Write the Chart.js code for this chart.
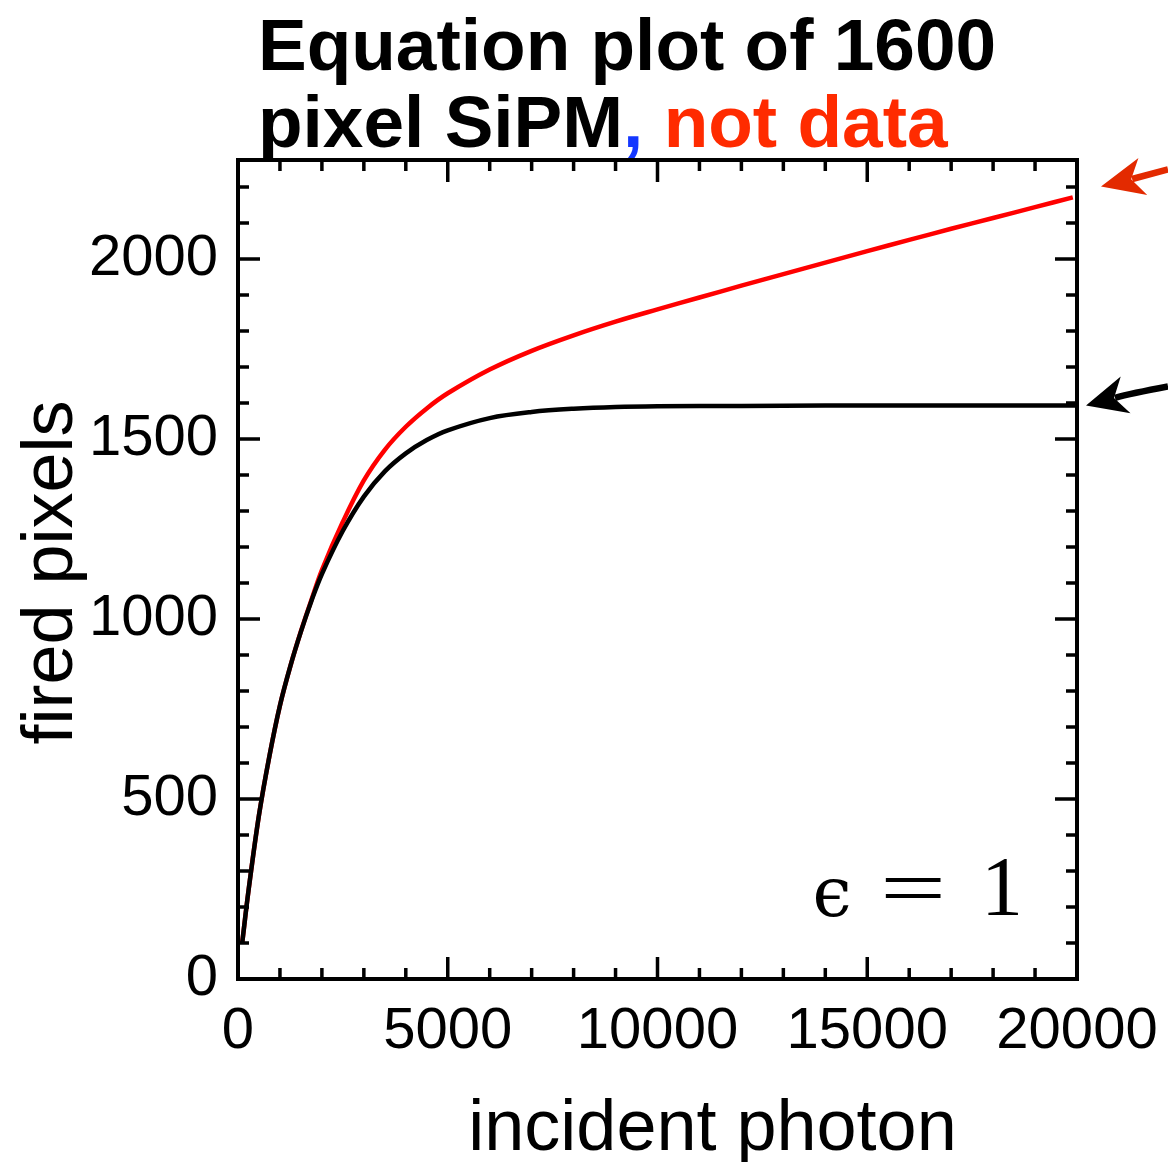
<!DOCTYPE html>
<html>
<head>
<meta charset="utf-8">
<title>Equation plot of 1600 pixel SiPM</title>
<script src="https://cdn.jsdelivr.net/npm/chart.js@4/dist/chart.umd.min.js"></script>
<style>
  html, body { margin: 0; padding: 0; background: #fff; }
  #wrap { width: 1168px; height: 1162px; }
</style>
</head>
<body>
<div id="wrap"><canvas id="sipm" width="1168" height="1162"></canvas></div>
<script>
// saturating curve (black): fired pixels vs incident photons
const photonsBlack = [100, 250, 500, 750, 1000, 1250, 1500, 1750, 2000, 2500, 3000, 3500, 4000, 4500,
  5000, 6000, 7000, 8000, 9000, 10000, 12000, 14000, 16000, 18000, 20000];
const firedBlack = [100, 245, 455, 620, 760, 870, 965, 1050, 1125, 1245, 1340, 1410, 1460, 1497,
  1524, 1558, 1575, 1584, 1589, 1591, 1592, 1593, 1593, 1593, 1593];

// non-saturating curve (red)
const photonsRed = [100, 250, 500, 750, 1000, 1250, 1500, 1750, 2000, 2500, 3000, 3500, 4000, 4500,
  5000, 6000, 7000, 8000, 9000, 10000, 11000, 12000, 13000, 14000, 15000, 16000, 17000, 18000, 19000, 19900];
const firedRed = [100, 245, 455, 620, 760, 870, 966, 1053, 1136, 1270, 1385, 1470, 1534, 1585,
  1627, 1693, 1745, 1788, 1826, 1860, 1893, 1926, 1958, 1990, 2022, 2053, 2084, 2114, 2144, 2171];

// axes
const xMin = 0, xMax = 20000, xMinorStep = 1000;
const yMin = 0, yMax = 2275, yMinorStep = 100;
const xTicks = [0, 5000, 10000, 15000, 20000];
const yTicks = [0, 500, 1000, 1500, 2000];

const FONT = "'Liberation Sans', Arial, Helvetica, sans-serif";

function toPoints(xs, ys) {
    return xs.map((x, i) => ({ x: x, y: ys[i] }));
}

// 標題：兩行，逗號藍色、"not data" 紅色
const titlePlugin = {
    id: 'titleText',
    afterDraw(chart) {
        const ctx = chart.ctx;
        const left = chart.chartArea.left + 20;
        ctx.save();
        ctx.font = 'bold 73px ' + FONT;
        ctx.textBaseline = 'alphabetic';
        ctx.textAlign = 'left';
        ctx.fillStyle = '#000';
        ctx.fillText('Equation plot of 1600', left, 70);
        const parts = [
            ['pixel SiPM', '#000'],
            [',', '#1437ff'],
            [' not data', '#ff2b00']
        ];
        let x = left;
        parts.forEach(([txt, col]) => {
            ctx.fillStyle = col;
            ctx.fillText(txt, x, 147);
            x += ctx.measureText(txt).width;
        });
        ctx.restore();
    }
};

// 外框與內向刻度（四邊）
const framePlugin = {
    id: 'frameTicks',
    afterDatasetsDraw(chart) {
        const { ctx, chartArea: a, scales } = chart;
        const xs = scales.x, ys = scales.y;
        ctx.save();
        ctx.strokeStyle = '#000';
        ctx.lineWidth = 3.5;
        ctx.lineCap = 'butt';
        ctx.beginPath();
        for (let v = xMin + xMinorStep; v < xMax; v += xMinorStep) {
            const px = xs.getPixelForValue(v);
            const len = xTicks.includes(v) ? 22 : 11;
            ctx.moveTo(px, a.bottom);
            ctx.lineTo(px, a.bottom - len);
            ctx.moveTo(px, a.top);
            ctx.lineTo(px, a.top + len);
        }
        for (let v = yMin + yMinorStep; v < yMax; v += yMinorStep) {
            const py = ys.getPixelForValue(v);
            const len = yTicks.includes(v) ? 22 : 11;
            ctx.moveTo(a.left, py);
            ctx.lineTo(a.left + len, py);
            ctx.moveTo(a.right, py);
            ctx.lineTo(a.right - len, py);
        }
        ctx.stroke();
        ctx.lineWidth = 4;
        ctx.strokeRect(a.left, a.top, a.right - a.left, a.bottom - a.top);
        ctx.restore();
    }
};

function drawArrow(ctx, tail, ctrl, tip, color, headLen, headHalf) {
    // direction of the head taken from the control point to the tip
    const dx = tip.x - ctrl.x, dy = tip.y - ctrl.y;
    const d = Math.hypot(dx, dy);
    const ux = dx / d, uy = dy / d;
    const bx = tip.x - ux * headLen, by = tip.y - uy * headLen;
    ctx.save();
    ctx.strokeStyle = color;
    ctx.fillStyle = color;
    ctx.lineWidth = 6.5;
    ctx.beginPath();
    ctx.moveTo(tail.x, tail.y);
    ctx.quadraticCurveTo(ctrl.x, ctrl.y, bx + ux * 6, by + uy * 6);
    ctx.stroke();
    ctx.beginPath();
    ctx.moveTo(tip.x, tip.y);
    ctx.lineTo(bx - uy * headHalf - ux * 5, by + ux * headHalf - uy * 5);
    ctx.lineTo(bx + ux * 7, by + uy * 7);
    ctx.lineTo(bx + uy * headHalf - ux * 5, by - ux * headHalf - uy * 5);
    ctx.closePath();
    ctx.fill();
    ctx.restore();
}

// 右側箭頭、ε = 1、座標軸名稱
const notesPlugin = {
    id: 'notes',
    afterDraw(chart) {
        const { ctx, chartArea: a, scales } = chart;
        const ys = scales.y;
        const W = chart.width;

        const redTip = { x: a.right + 24, y: ys.getPixelForValue(firedRed[firedRed.length - 1]) - 11 };
        drawArrow(ctx, { x: W, y: redTip.y - 17 }, { x: (W + redTip.x) / 2, y: redTip.y - 8 },
            redTip, '#e32a00', 38, 19);

        const blackTip = { x: a.right + 9, y: ys.getPixelForValue(firedBlack[firedBlack.length - 1]) };
        drawArrow(ctx, { x: W, y: blackTip.y - 19 }, { x: blackTip.x + 45, y: blackTip.y - 12 },
            blackTip, '#000', 36, 19);

        // ε = 1
        ctx.save();
        ctx.fillStyle = '#000';
        ctx.textBaseline = 'alphabetic';
        ctx.textAlign = 'center';
        const base = a.bottom - 64;
        ctx.font = "70px 'DejaVu Serif', serif";
        ctx.fillText('\u03f5', a.right - 245, base + 1);
        ctx.save();
        ctx.translate(a.right - 164, base);
        ctx.scale(1.45, 1);
        ctx.font = "81px 'Liberation Serif', 'Times New Roman', serif";
        ctx.fillText('=', 0, 0);
        ctx.restore();
        ctx.font = "84px 'Liberation Serif', 'Times New Roman', serif";
        ctx.fillText('1', a.right - 75, base);

        // axis titles
        ctx.font = '72px ' + FONT;
        ctx.fillText('incident photon', (a.left + a.right) / 2 + 55, 1150);
        ctx.translate(72, (a.top + a.bottom) / 2 + 3);
        ctx.rotate(-Math.PI / 2);
        ctx.fillText('fired pixels', 0, 0);
        ctx.restore();
    }
};

const ctx = document.getElementById('sipm').getContext('2d');
new Chart(ctx, {
    type: 'line',
    data: {
        datasets: [
            {
                label: 'saturating',
                data: toPoints(photonsBlack, firedBlack),
                borderColor: '#000',
                borderWidth: 4.5,
                pointRadius: 0,
                tension: 0.35,
                fill: false
            },
            {
                label: 'linear term',
                data: toPoints(photonsRed, firedRed),
                borderColor: '#ff0000',
                borderWidth: 4.5,
                pointRadius: 0,
                tension: 0.35,
                fill: false
            }
        ]
    },
    options: {
        responsive: false,
        animation: false,
        devicePixelRatio: 1,
        layout: { padding: { left: 0, top: 160, right: 91, bottom: 0 } },
        plugins: {
            legend: { display: false },
            title: { display: false },
            tooltip: { enabled: false }
        },
        scales: {
            x: {
                type: 'linear',
                min: xMin,
                max: xMax,
                grid: { display: false, drawTicks: false },
                border: { display: false },
                afterBuildTicks: s => { s.ticks = xTicks.map(v => ({ value: v })); },
                ticks: {
                    padding: 18,
                    maxRotation: 0,
                    autoSkip: false,
                    color: '#000',
                    font: { family: FONT, size: 58 },
                    callback: v => String(v)
                },
                afterFit: s => { s.height = 183; s.paddingLeft = 0; s.paddingRight = 0; }
            },
            y: {
                type: 'linear',
                min: yMin,
                max: yMax,
                grid: { display: false, drawTicks: false },
                border: { display: false },
                afterBuildTicks: s => { s.ticks = yTicks.map(v => ({ value: v })); },
                ticks: {
                    padding: 20,
                    autoSkip: false,
                    color: '#000',
                    font: { family: FONT, size: 58 },
                    callback: v => String(v)
                },
                afterFit: s => { s.width = 238; s.paddingTop = 0; s.paddingBottom = 0; }
            }
        }
    },
    plugins: [framePlugin, titlePlugin, notesPlugin]
});
</script>
</body>
</html>
